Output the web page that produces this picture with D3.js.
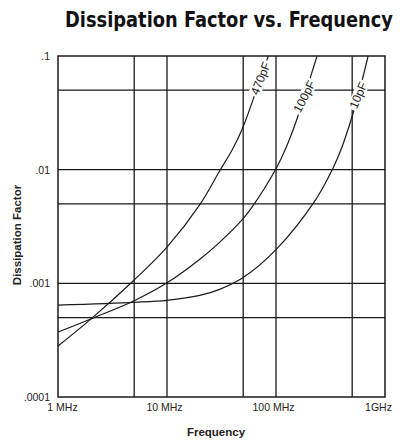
<!DOCTYPE html>
<html>
<head>
<meta charset="utf-8">
<script src="https://cdn.jsdelivr.net/npm/d3@7"></script>
<style>
  html, body { margin: 0; padding: 0; background: #fff; }
  svg { display: block; }
</style>
</head>
<body>
<svg id="chart" width="409" height="444"></svg>
<script>
// ---- data (frequency in MHz, dissipation factor) ----
const seriesNames = ["470pF", "100pF", "10pF"];
const freq470 = [1, 2, 5, 10, 20, 30, 40, 50, 70, 85];
const df470   = [0.000281, 0.000484, 0.00107, 0.00208, 0.00492, 0.00953, 0.0152, 0.0239, 0.0589, 0.1];
const freq100 = [1, 2, 5, 10, 20, 30, 50, 60, 100, 125, 150, 180, 238];
const df100   = [0.000373, 0.000486, 0.000703, 0.00101, 0.00163, 0.00227, 0.00371, 0.00465, 0.0102, 0.016, 0.0252, 0.0427, 0.1];
const freq10  = [1, 5, 10, 20, 30, 50, 100, 230, 330, 400, 500, 580, 700];
const df10    = [0.000644, 0.000681, 0.000709, 0.000783, 0.000881, 0.001125, 0.00198, 0.0054, 0.0101, 0.0155, 0.0295, 0.0484, 0.1];
const labelFreqs = [72, 182, 568];

const xTickValues = [1, 10, 100, 1000];
const xTickLabels = ["1 MHz", "10 MHz", "100 MHz", "1GHz"];
const yTickValues = [0.0001, 0.001, 0.01, 0.1];
const yTickLabels = [".0001", ".001", ".01", ".1"];
const xGrid = [5, 10, 50, 100, 500];
const yGrid = [0.05, 0.01, 0.005, 0.001, 0.0005];

const titleText = "Dissipation Factor vs. Frequency";
const xTitle = "Frequency";
const yTitle = "Dissipation Factor";

// ---- layout / style ----
const plot = { left: 58, right: 385, top: 56, bottom: 397 };
const ink = "#1a1a1a";
const labelAngles = [-68, -63, -67];
const xLabelDx = [4, -3, -3, -7];

const svg = d3.select("#chart");
const x = d3.scaleLog().domain([1, 1000]).range([plot.left, plot.right]);
const y = d3.scaleLog().domain([0.0001, 0.1]).range([plot.bottom, plot.top]);

// title
svg.append("text")
  .attr("transform", "translate(65,27) scale(1,1.15)")
  .attr("textLength", 328).attr("lengthAdjust", "spacingAndGlyphs")
  .style("font-family", "'DejaVu Sans Condensed', 'Liberation Sans Narrow', 'Liberation Sans', sans-serif")
  .style("font-weight", "bold").style("font-size", "19px")
  .attr("fill", "#111")
  .text(titleText);

// grid
const g = svg.append("g");
g.selectAll("line.vx").data(xGrid).join("line")
  .attr("class", "vx")
  .attr("x1", d => x(d)).attr("x2", d => x(d))
  .attr("y1", plot.top).attr("y2", plot.bottom)
  .attr("stroke", ink).attr("stroke-width", 1.3);
g.selectAll("line.hy").data(yGrid).join("line")
  .attr("class", "hy")
  .attr("y1", d => y(d)).attr("y2", d => y(d))
  .attr("x1", plot.left).attr("x2", plot.right)
  .attr("stroke", ink).attr("stroke-width", 1.3);

// curves
const series = [
  { name: seriesNames[0], f: freq470, v: df470 },
  { name: seriesNames[1], f: freq100, v: df100 },
  { name: seriesNames[2], f: freq10,  v: df10 }
];
const line = d3.line()
  .x(d => x(d[0])).y(d => y(d[1]))
  .curve(d3.curveCatmullRom.alpha(0.5));
series.forEach(s => {
  const pts = s.f.map((f, i) => [f, s.v[i]]);
  svg.append("path")
    .attr("d", line(pts))
    .attr("fill", "none")
    .attr("stroke", ink).attr("stroke-width", 1.2);
});

// frame
svg.append("rect")
  .attr("x", plot.left).attr("y", plot.top)
  .attr("width", plot.right - plot.left).attr("height", plot.bottom - plot.top)
  .attr("fill", "none").attr("stroke", ink).attr("stroke-width", 1.5);

// curve labels (interrupting curve and grid)
function interp(s, f) {
  const lf = Math.log10(f);
  for (let i = 0; i < s.f.length - 1; i++) {
    const a = Math.log10(s.f[i]), b = Math.log10(s.f[i + 1]);
    if (lf >= a && lf <= b) {
      const t = (lf - a) / (b - a);
      return Math.pow(10, Math.log10(s.v[i]) * (1 - t) + Math.log10(s.v[i + 1]) * t);
    }
  }
  return s.v[s.v.length - 1];
}
series.forEach((s, i) => {
  const f = labelFreqs[i];
  const px = x(f), py = y(interp(s, f));
  const lg = svg.append("g").attr("transform", `translate(${px},${py}) rotate(${labelAngles[i]})`);
  const t = lg.append("text")
    .attr("text-anchor", "middle").attr("dy", "0.35em")
    .style("font-family", "'Liberation Sans', Arial, sans-serif")
    .style("font-size", "12px").attr("fill", ink)
    .text(s.name);
  const bb = t.node().getBBox();
  lg.insert("rect", "text")
    .attr("x", bb.x - 2).attr("y", bb.y + 1)
    .attr("width", bb.width + 4).attr("height", bb.height - 2)
    .attr("fill", "#fff");
});

// axes
const xAxis = d3.axisBottom(x).tickValues(xTickValues).tickSize(0)
  .tickFormat((d, i) => xTickLabels[i]);
const xa = svg.append("g").attr("transform", `translate(0,${plot.bottom + 4})`).call(xAxis);
xa.select(".domain").remove();
xa.selectAll("text")
  .attr("dx", (d, i) => xLabelDx[i])
  .style("font-family", "'Liberation Sans', Arial, sans-serif")
  .style("font-size", "10.5px").attr("fill", "#222");

const yAxis = d3.axisLeft(y).tickValues(yTickValues).tickSize(0)
  .tickFormat((d, i) => yTickLabels[i]);
const ya = svg.append("g").attr("transform", `translate(${plot.left - 5},0)`).call(yAxis);
ya.select(".domain").remove();
ya.selectAll("text")
  .style("font-family", "'Liberation Sans', Arial, sans-serif")
  .style("font-size", "10.5px").attr("fill", "#222");

// axis titles
svg.append("text")
  .attr("x", 216).attr("y", 436).attr("text-anchor", "middle")
  .style("font-family", "'Liberation Sans', Arial, sans-serif")
  .style("font-weight", "bold").style("font-size", "11.5px").attr("fill", "#222")
  .text(xTitle);
svg.append("text")
  .attr("transform", "translate(21,235) rotate(-90)").attr("text-anchor", "middle")
  .style("font-family", "'Liberation Sans', Arial, sans-serif")
  .style("font-weight", "bold").style("font-size", "11.5px").attr("fill", "#222")
  .text(yTitle);
</script>
</body>
</html>
